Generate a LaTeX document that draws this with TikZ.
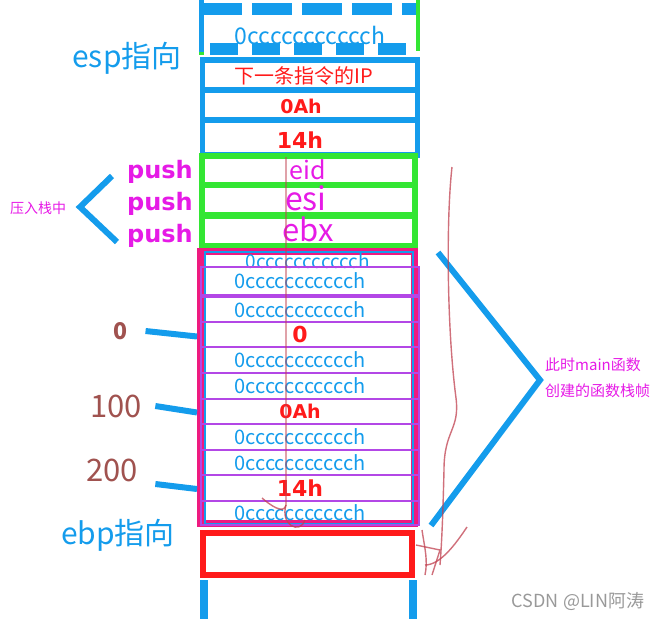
\documentclass[tikz,border=0pt]{standalone}
\usepackage{fontspec}
\setmainfont{Noto Sans CJK SC}
\newfontfamily\widesans{DejaVu Sans}
\usetikzlibrary{positioning}
\definecolor{skyblue}{HTML}{149CEC}
\definecolor{limegreen}{HTML}{33E633}
\definecolor{hotpink}{HTML}{EE1A80}
\definecolor{violet}{HTML}{B347E6}
\definecolor{brightred}{HTML}{FF1A1A}
\definecolor{fuchsia}{HTML}{E61AE6}
\definecolor{rust}{HTML}{A0524F}
\definecolor{scribble}{HTML}{C0404F}
\begin{document}
\begin{tikzpicture}[x=1pt,y=-1pt,
 cell/.style={draw,minimum width=#1,inner sep=0pt},
 bluecell/.style={cell=215,skyblue,line width=5.5pt,minimum height=30},
 greencell/.style={cell=213,limegreen,line width=6pt,minimum height=30},
 slot/.style={cell=218,violet,line width=2.5pt,minimum height=25},
 cval/.style={text=skyblue,font=\fontsize{20}{20}\selectfont},
 rval/.style={text=brightred,font=\widesans\bfseries\fontsize{19}{19}\selectfont},
 rbig/.style={text=brightred,font=\widesans\bfseries\fontsize{22}{22}\selectfont},
 reg/.style={text=fuchsia,font=\fontsize{#1}{#1}\selectfont},
 pushlbl/.style={text=fuchsia,font=\widesans\bfseries\fontsize{24}{24}\selectfont},
 offset/.style={text=rust,font=\fontsize{#1}{#1}\selectfont},
 ptr/.style={text=skyblue,font=\fontsize{30}{30}\selectfont},
 note/.style={text=fuchsia,font=\fontsize{#1}{#1}\selectfont,inner sep=0pt},
 brace/.style={skyblue,line width=6pt},
 tick/.style={skyblue,line width=6pt},
 doodle/.style={scribble,opacity=0.75,line width=1.4pt}]
\useasboundingbox (0,0) rectangle (664,619);
% part of the stack above main
\node[cell=216,draw=none,minimum height=40] (top) at (310,29) {};
\draw[skyblue,line width=12pt,dash pattern=on 40pt off 10pt] (top.north west) -- (top.north east);
\draw[skyblue,line width=12pt,dash pattern=on 28pt off 14pt] ([xshift=8pt]top.south west) -- ([xshift=-6pt]top.south east);
\draw[skyblue,line width=5pt] (top.north west |- 0,0) -- ([yshift=-6pt]top.south west);
\draw[limegreen,line width=5pt] ([yshift=-6pt]top.south west) -- ([yshift=-3pt]top.south west);
\draw[skyblue,line width=6pt] (top.north east |- 0,0) -- ([yshift=10pt]top.north east);
\draw[limegreen,line width=4pt] ([yshift=10pt]top.north east) -- ([yshift=-2pt]top.south east);
\node[cval,font=\fontsize{23}{23}\selectfont,anchor=base] (topval) at (310,44) {0ccccccccccch};
\node[bluecell] (ret) at (310,75) {};
\node[text=brightred,font=\fontsize{20}{20}\selectfont] (retval) at (304,76) {下一条指令的IP};
\node[bluecell] (arga) at (310,105) {};
\node[rval] (argaval) at (301,106) {0Ah};
\node[bluecell,minimum height=35] (argb) at (310,137.5) {};
\node[rbig] (argbval) at (300,140) {14h};
% saved registers
\node[greencell,minimum height=29] (edi) at (308.5,170.5) {};
\node[reg=25] (edival) at (308,170) {eid};
\node[greencell] (esi) at (308.5,200) {};
\node[reg=32] (esival) at (306,198) {esi};
\node[greencell] (ebx) at (308.5,231) {};
\node[reg=31] (ebxval) at (308,229) {ebx};
\node[pushlbl] (push1) at (160,172) {push};
\node[pushlbl] (push2) at (160,204) {push};
\node[pushlbl] (push3) at (160,236) {push};
\node[note=14] (pushnote) at (38,208) {压入栈中};
\coordinate (lbend) at (80,207);
\draw[brace] ([shift={(-48,4)}]push1.center) -- (lbend) -- ([shift={(-43,6)}]push3.center);
% frame of main
\node[cell=214,hotpink,line width=7pt,minimum height=272] (frame) at (307.5,387) {};
\node[cell=208,skyblue,line width=2pt,minimum height=272] (inner) at (309,388) {};
\node[cval,font=\fontsize{19}{19}\selectfont] (v0) at (308,261) {0ccccccccccch};
\foreach \name/\y/\h/\val/\kind in {
 s1/281/28/0ccccccccccch/cval, s2/309.5/25/0ccccccccccch/cval,
 s3/334.5/25/0/rbig, s4/360/26/0ccccccccccch/cval,
 s5/386/26/0ccccccccccch/cval, s6/411.5/25/0Ah/rval,
 s7/437/26/0ccccccccccch/cval, s8/462.5/25/0ccccccccccch/cval,
 s9/488/26/14h/rbig, s10/513/24/0ccccccccccch/cval}
 {\node[slot,minimum height=\h] (\name) at (310,\y) {};
  \node[\kind] (\name val) at (300,\y) {\val};}
\node[cell=209,brightred,line width=6pt,minimum height=42] (ebpcell) at (307.5,554) {};
\coordinate (lbot) at (204,580);
\coordinate (rbot) at (413,580);
\draw[skyblue,line width=8pt] (lbot) -- ++(0,39);
\draw[skyblue,line width=8pt] (rbot) -- ++(0,39);
% offsets from ebp
\node[offset=23,font=\bfseries\fontsize{23}{23}\selectfont] (off0) at (121,331) {0};
\node[offset=31] (off100) at (116,406) {100};
\node[offset=31] (off200) at (112,470) {200};
\draw[tick] ([xshift=14pt]off0.east) -- ([shift={(0,2)}]s3.west -| frame.west);
\draw[tick] ([shift={(10,0)}]off100.east) -- ([yshift=-1pt]s6.west -| frame.west);
\draw[tick] ([shift={(14,14)}]off200.east) -- ([yshift=-1pt]s9.west -| frame.west);
% pointers
\node[ptr] (esp) at (127,58) {esp指向};
\node[ptr] (ebp) at (118,535) {ebp指向};
% brace of the frame
\node[note=15,anchor=west] (framenote1) at (545,365) {此时main函数};
\node[note=15,anchor=west] (framenote2) at (545,391) {创建的函数栈帧};
\coordinate (rbend) at (540,380);
\draw[brace] ([shift={(20,5)}]frame.north east) -- (rbend) -- ([shift={(13,-1)}]frame.south east);
% hand-drawn marks
\draw[doodle] (286,157) -- (286,505) .. controls (284,515) and (270,505) .. (262,498);
\draw[doodle] (286,505) .. controls (280,525) and (300,535) .. (305,520);
\draw[doodle] (452,167) .. controls (446,220) and (447,330) .. (456,398)
 .. controls (460,430) and (444,430) .. (444,470) .. controls (443,510) and (442,540) .. (440,565);
\draw[doodle] (467,527) .. controls (455,545) and (440,565) .. (425,565);
\draw[doodle] (416,545) -- (440,550) -- (432,575);
\draw[doodle] (422,530) .. controls (425,550) and (428,560) .. (425,575);
% watermark
\node[text=gray!80,font=\fontsize{18}{18}\selectfont] (mark) at (578,601) {CSDN @LIN阿涛};
\end{tikzpicture}
\end{document}
